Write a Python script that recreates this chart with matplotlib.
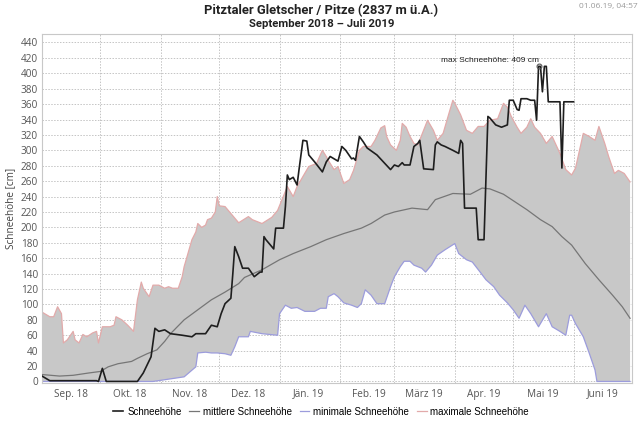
import numpy as np
import pandas as pd
import matplotlib
matplotlib.use("Agg")
import matplotlib.pyplot as plt
import matplotlib.dates as mdates
from matplotlib.lines import Line2D

# maximale Schneehöhe (obere Kante der grauen Fläche)
max_tage = ['2018-09-01', '2018-09-05', '2018-09-07', '2018-09-09', '2018-09-11', '2018-09-12',
            '2018-09-14', '2018-09-17', '2018-09-18', '2018-09-20', '2018-09-22', '2018-09-24',
            '2018-09-27', '2018-09-29', '2018-09-30', '2018-10-02', '2018-10-06', '2018-10-08',
            '2018-10-09', '2018-10-12', '2018-10-15', '2018-10-18', '2018-10-20', '2018-10-22',
            '2018-10-23', '2018-10-26', '2018-10-28', '2018-10-31', '2018-11-03', '2018-11-05',
            '2018-11-07', '2018-11-10', '2018-11-12', '2018-11-13', '2018-11-17', '2018-11-19',
            '2018-11-20', '2018-11-22', '2018-11-24', '2018-11-25', '2018-11-27', '2018-11-29',
            '2018-11-30', '2018-12-01', '2018-12-04', '2018-12-07', '2018-12-11', '2018-12-16',
            '2018-12-18', '2018-12-23', '2018-12-28', '2018-12-31', '2019-01-05', '2019-01-08',
            '2019-01-10', '2019-01-13', '2019-01-16', '2019-01-20', '2019-01-23', '2019-01-25',
            '2019-01-26', '2019-01-29', '2019-01-31', '2019-02-03', '2019-02-06', '2019-02-08',
            '2019-02-11', '2019-02-13', '2019-02-17', '2019-02-19', '2019-02-22', '2019-02-24',
            '2019-02-25', '2019-02-27', '2019-03-02', '2019-03-04', '2019-03-05', '2019-03-07',
            '2019-03-09', '2019-03-11', '2019-03-13', '2019-03-18', '2019-03-21', '2019-03-23',
            '2019-03-26', '2019-03-29', '2019-03-31', '2019-04-01', '2019-04-04', '2019-04-07',
            '2019-04-10', '2019-04-13', '2019-04-16', '2019-04-19', '2019-04-23', '2019-04-26',
            '2019-04-28', '2019-04-30', '2019-05-03', '2019-05-05', '2019-05-08', '2019-05-10',
            '2019-05-12', '2019-05-15', '2019-05-18', '2019-05-21', '2019-05-25', '2019-05-28',
            '2019-05-31', '2019-06-02', '2019-06-06', '2019-06-09', '2019-06-12', '2019-06-14',
            '2019-06-17', '2019-06-19', '2019-06-22', '2019-06-24', '2019-06-27', '2019-06-30']
max_werte = [90, 84, 84, 97, 88, 50,
             54, 65, 54, 50, 61, 58,
             63, 65, 50, 71, 71, 73,
             84, 80, 73, 65, 106, 129,
             121, 110, 125, 125, 121, 123,
             121, 121, 136, 149, 184, 194,
             205, 200, 203, 210, 212, 220,
             240, 228, 227, 218, 206, 214,
             210, 205, 213, 222, 253, 240,
             253, 266, 279, 283, 300, 292,
             287, 275, 279, 257, 262, 274,
             300, 305, 305, 313, 329, 332,
             318, 307, 300, 313, 335, 330,
             318, 309, 307, 339, 326, 313,
             322, 348, 365, 361, 346, 326,
             322, 331, 331, 339, 341, 361,
             356, 344, 330, 322, 330, 341,
             330, 322, 309, 318, 296, 275,
             268, 277, 322, 318, 313, 331,
             309, 292, 270, 274, 270, 259]

# minimale Schneehöhe (untere Kante der grauen Fläche)
min_tage = ['2018-09-01', '2018-10-28', '2018-11-13', '2018-11-19', '2018-11-20', '2018-11-24',
            '2018-11-27', '2018-11-30', '2018-12-04', '2018-12-07', '2018-12-09', '2018-12-11',
            '2018-12-16', '2018-12-17', '2018-12-23', '2018-12-31', '2019-01-01', '2019-01-04',
            '2019-01-07', '2019-01-10', '2019-01-14', '2019-01-19', '2019-01-22', '2019-01-25',
            '2019-01-26', '2019-01-29', '2019-01-31', '2019-02-03', '2019-02-07', '2019-02-10',
            '2019-02-12', '2019-02-14', '2019-02-17', '2019-02-20', '2019-02-24', '2019-02-27',
            '2019-03-01', '2019-03-04', '2019-03-06', '2019-03-09', '2019-03-11', '2019-03-15',
            '2019-03-17', '2019-03-20', '2019-03-23', '2019-03-27', '2019-04-01', '2019-04-03',
            '2019-04-07', '2019-04-10', '2019-04-14', '2019-04-17', '2019-04-21', '2019-04-24',
            '2019-04-28', '2019-05-01', '2019-05-04', '2019-05-07', '2019-05-10', '2019-05-14',
            '2019-05-18', '2019-05-21', '2019-05-25', '2019-05-28', '2019-05-30', '2019-05-31',
            '2019-06-02', '2019-06-06', '2019-06-09', '2019-06-12', '2019-06-13', '2019-06-30']
min_werte = [0, 0, 6, 19, 37, 38,
             37, 37, 36, 34, 45, 58,
             58, 65, 62, 60, 88, 99,
             95, 96, 91, 91, 95, 95,
             110, 114, 110, 102, 99, 96,
             101, 119, 112, 101, 101, 123,
             136, 149, 156, 156, 151, 147,
             142, 151, 164, 171, 179, 166,
             158, 155, 142, 132, 123, 112,
             102, 93, 82, 99, 88, 71,
             88, 71, 65, 60, 86, 86,
             75, 58, 37, 15, 0, 0]

# mittlere Schneehöhe
mittel_tage = ['2018-09-01', '2018-09-10', '2018-09-17', '2018-09-25', '2018-10-01', '2018-10-05',
               '2018-10-10', '2018-10-17', '2018-10-20', '2018-10-25', '2018-10-30', '2018-11-03',
               '2018-11-06', '2018-11-13', '2018-11-20', '2018-11-27', '2018-12-04', '2018-12-11',
               '2018-12-14', '2018-12-23', '2019-01-01', '2019-01-08', '2019-01-17', '2019-01-25',
               '2019-02-03', '2019-02-12', '2019-02-17', '2019-02-24', '2019-03-01', '2019-03-10',
               '2019-03-18', '2019-03-22', '2019-03-31', '2019-04-09', '2019-04-15', '2019-04-19',
               '2019-04-26', '2019-05-02', '2019-05-08', '2019-05-15', '2019-05-21', '2019-05-26',
               '2019-05-31', '2019-06-07', '2019-06-14', '2019-06-21', '2019-06-26', '2019-06-30']
mittel_werte = [9, 7, 8, 11, 13, 19,
                23, 26, 30, 36, 41, 52,
                62, 80, 93, 106, 116, 127,
                135, 145, 158, 166, 175, 184,
                192, 199, 205, 216, 220, 225,
                223, 236, 244, 243, 251, 250,
                243, 233, 223, 210, 201, 188,
                177, 153, 132, 112, 97, 82]

# aktuelle Schneehöhe 2018/19
hs_tage = ['2018-09-01', '2018-09-03', '2018-09-05', '2018-09-29', '2018-09-30', '2018-10-02',
           '2018-10-04', '2018-10-20', '2018-10-23', '2018-10-27', '2018-10-29', '2018-10-31',
           '2018-11-03', '2018-11-06', '2018-11-12', '2018-11-17', '2018-11-19', '2018-11-24',
           '2018-11-27', '2018-11-30', '2018-12-02', '2018-12-04', '2018-12-07', '2018-12-08',
           '2018-12-09', '2018-12-11', '2018-12-13', '2018-12-16', '2018-12-19', '2018-12-22',
           '2018-12-23', '2018-12-24', '2018-12-25', '2018-12-28', '2018-12-29', '2018-12-30',
           '2019-01-03', '2019-01-04', '2019-01-05', '2019-01-06', '2019-01-08', '2019-01-10',
           '2019-01-11', '2019-01-13', '2019-01-15', '2019-01-16', '2019-01-19', '2019-01-23',
           '2019-01-25', '2019-01-27', '2019-01-29', '2019-01-31', '2019-02-02', '2019-02-04',
           '2019-02-07', '2019-02-08', '2019-02-09', '2019-02-11', '2019-02-13', '2019-02-15',
           '2019-02-20', '2019-02-27', '2019-03-01', '2019-03-03', '2019-03-05', '2019-03-06',
           '2019-03-09', '2019-03-11', '2019-03-13', '2019-03-14', '2019-03-16', '2019-03-21',
           '2019-03-22', '2019-03-23', '2019-03-25', '2019-03-27', '2019-03-31', '2019-04-03',
           '2019-04-04', '2019-04-05', '2019-04-06', '2019-04-12', '2019-04-13', '2019-04-16',
           '2019-04-18', '2019-04-19', '2019-04-22', '2019-04-25', '2019-04-28', '2019-04-29',
           '2019-05-01', '2019-05-03', '2019-05-04', '2019-05-05', '2019-05-08', '2019-05-10',
           '2019-05-12', '2019-05-13', '2019-05-14', '2019-05-15', '2019-05-16', '2019-05-17',
           '2019-05-18', '2019-05-19', '2019-05-25', '2019-05-26', '2019-05-27', '2019-06-01']
hs_werte = [7, 4, 1, 1, 0, 17,
            0, 0, 11, 32, 69, 65,
            67, 62, 60, 58, 62, 62,
            73, 71, 88, 101, 108, 140,
            175, 162, 147, 147, 136, 142,
            142, 188, 184, 175, 172, 199,
            199, 227, 268, 262, 265, 255,
            275, 313, 312, 294, 285, 272,
            285, 292, 289, 286, 305, 300,
            289, 290, 287, 318, 311, 303,
            294, 275, 281, 279, 284, 281,
            281, 305, 309, 313, 276, 275,
            307, 311, 307, 305, 300, 296,
            313, 309, 225, 225, 184, 184,
            344, 342, 333, 330, 333, 365,
            365, 353, 352, 367, 367, 365,
            365, 339, 409, 409, 376, 409,
            409, 363, 363, 277, 363, 363]

monate = ['Sep. 18', 'Okt. 18', 'Nov. 18', 'Dez. 18', 'Jän. 19',
          'Feb. 19', 'März 19', 'Apr. 19', 'Mai 19', 'Juni 19']

max_x = pd.to_datetime(max_tage)
min_x = pd.to_datetime(min_tage)
mittel_x = pd.to_datetime(mittel_tage)
hs_x = pd.to_datetime(hs_tage)

plt.rcParams['font.family'] = ['Open Sans', 'DejaVu Sans']

fig = plt.figure(figsize=(6.4, 4.23), dpi=100)
ax = fig.add_axes([42 / 640, 1 - 383 / 423, 590 / 640, 349 / 423])

# graue Fläche zwischen min und max
poly_x = np.concatenate([mdates.date2num(max_x), mdates.date2num(min_x)[::-1]])
poly_y = np.concatenate([max_werte, min_werte[::-1]])
ax.fill(poly_x, poly_y, color='#c8c8c8', lw=0, zorder=1)
ax.plot(max_x, max_werte, color='#e2aaaa', lw=0.9, zorder=2)
ax.plot(min_x, min_werte, color='#9c9cdc', lw=0.9, zorder=2)
ax.plot(mittel_x, mittel_werte, color='#767676', lw=0.9, zorder=3)
ax.plot(hs_x, hs_werte, color='#1e1e1e', lw=1.2, zorder=4)

# Maximum markieren
i_max = int(np.argmax(hs_werte))
ax.plot(hs_x[i_max], hs_werte[i_max], 'o', ms=3.5, mfc='none', mec='#555555', mew=0.8, zorder=5)
ax.annotate('max Schneehöhe: %d cm' % hs_werte[i_max], (hs_x[i_max], hs_werte[i_max]),
            xytext=(0, 2), textcoords='offset points', ha='right', va='bottom',
            fontsize=6, color='#222222', family=['Liberation Sans'])

ax.yaxis.set_major_locator(plt.MultipleLocator(20))
ax.xaxis.set_major_locator(mdates.MonthLocator())
ax.xaxis.set_major_formatter(plt.NullFormatter())
mitte = pd.date_range('2018-09-01', periods=len(monate), freq='MS') + pd.Timedelta(days=15)
ax.set_xticks(mitte, minor=True)
ax.set_xticklabels(monate, minor=True)

ax.set_xlim(pd.Timestamp('2018-09-01'), pd.Timestamp('2019-07-01'))
ax.set_ylim(-2, 451)

ax.grid(True, which='major', color='#c4c4c4', ls=(0, (1.5, 1.5)), lw=0.7, zorder=0)
ax.set_axisbelow(True)
ax.tick_params(axis='x', which='major', length=0)
ax.tick_params(axis='x', which='minor', length=0, pad=4, labelsize=7.2, labelcolor='#555555')
ax.tick_params(axis='y', length=0, pad=3, labelsize=7.2, labelcolor='#555555')
for s in ax.spines.values():
    s.set_color('#c8c8c8')
    s.set_linewidth(0.8)

ax.set_ylabel('Schneehöhe [cm]', fontsize=7.2, color='#444444', labelpad=3)

fig.text(0.502, 0.974, 'Pitztaler Gletscher / Pitze (2837 m ü.A.)', ha='center', va='center',
         fontsize=9.4, fontweight='bold', color='#222222', family=['Roboto', 'DejaVu Sans'])
fig.text(0.502, 0.944, 'September 2018 – Juli 2019', ha='center', va='center',
         fontsize=8.2, fontweight='bold', color='#222222', family=['Roboto', 'DejaVu Sans'])
fig.text(0.997, 0.985, '01.06.19, 04:57', ha='right', va='center', fontsize=6, color='#9a9a9a')

handles = [Line2D([], [], color='#1e1e1e', lw=1.2),
           Line2D([], [], color='#767676', lw=0.9),
           Line2D([], [], color='#9c9cdc', lw=0.9),
           Line2D([], [], color='#e2aaaa', lw=0.9)]
labels = ['Schneehöhe', 'mittlere Schneehöhe', 'minimale Schneehöhe', 'maximale Schneehöhe']
fig.legend(handles, labels, loc='center', bbox_to_anchor=(0.502, 0.027), ncol=4, frameon=False,
           handlelength=1.0, handletextpad=0.4, columnspacing=0.8,
           prop={'family': 'Liberation Sans', 'size': 7.0})

fig.savefig('out.png', dpi=100)
